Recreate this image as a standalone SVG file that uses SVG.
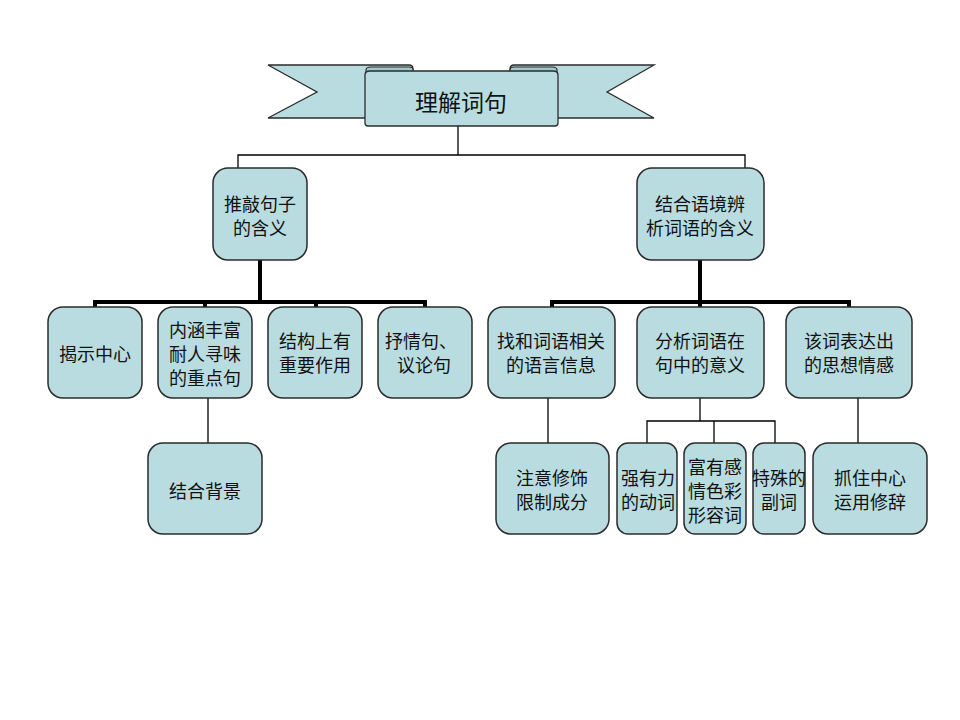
<svg xmlns="http://www.w3.org/2000/svg" width="960" height="720" viewBox="0 0 960 720">
<defs>
<style>
.box{fill:#b9dce0;stroke:#2b2b2b;stroke-width:1.5}
.rib{fill:#b9dce0;stroke:#2b2b2b;stroke-width:1.3;stroke-linejoin:miter}
.curl{fill:#a3c9cd;stroke:#2b2b2b;stroke-width:1.2}
.thin{fill:none;stroke:#000;stroke-width:1.3}
.thick{fill:none;stroke:#000;stroke-width:4;stroke-linejoin:miter}
text{font-family:"Noto Sans CJK SC","Liberation Sans",sans-serif;font-size:18px;fill:#111;text-anchor:middle;dominant-baseline:central}
.title{font-size:23px}
</style>
</defs>
<rect width="960" height="720" fill="#fff"/>
<g id="connectors">
<path class="thin" d="M458,126 V155 M238,168 V155 H745 V168"/>
<path class="thick" d="M260,260 V302 M95,307 V302 H425 V307 M205,302 V307 M316,302 V307"/>
<path class="thick" d="M700,260 V307 M552,307 V302 H849 V307"/>
<path class="thin" d="M208,398 V443 M548,398 V443 M858,398 V443 M700,398 V421 M647,443 V421 H775 V443 M714,421 V443"/>
</g>
<g id="title">
<path class="rib" d="M268,65 L409,65 Q413,65 413,69 L413,118 L268,118 L317,92 Z"/>
<path class="rib" d="M654,65 L514,65 Q510,65 510,69 L510,118 L654,118 L607,92 Z"/>
<path class="curl" d="M366,74 L366,70 Q366,67 371,67 L409,67 Q413,67 413,70 L413,74 Z"/>
<path class="curl" d="M510,74 L510,70 Q510,67 514,67 L552,67 Q557,67 557,70 L557,74 Z"/>
<path class="rib" d="M365,75 Q365,71 370,71 L553,71 Q558,71 558,75 L558,123 Q558,126 555,126 L368,126 Q365,126 365,123 Z"/>
<text class="title" x="461" y="101">理解词句</text>
</g>
<g id="n-tuiqiao">
<rect class="box" x="213" y="168" width="94" height="92" rx="15"/>
<text x="260" y="203">推敲句子</text><text x="260" y="227">的含义</text>
</g>
<g id="n-jiehe">
<rect class="box" x="637" y="168" width="127" height="92" rx="15"/>
<text x="700" y="203">结合语境辨</text><text x="700" y="227">析词语的含义</text>
</g>
<g id="n-jieshi">
<rect class="box" x="48" y="307" width="94" height="91" rx="15"/>
<text x="95" y="353">揭示中心</text>
</g>
<g id="n-neihan">
<rect class="box" x="158" y="307" width="94" height="91" rx="15"/>
<text x="205" y="329">内涵丰富</text><text x="205" y="353">耐人寻味</text><text x="205" y="377">的重点句</text>
</g>
<g id="n-jiegou">
<rect class="box" x="268" y="307" width="94" height="91" rx="15"/>
<text x="315" y="340">结构上有</text><text x="315" y="364">重要作用</text>
</g>
<g id="n-shuqing">
<rect class="box" x="378" y="307" width="94" height="91" rx="15"/>
<text x="421" y="340">抒情句、</text><text x="424" y="364">议论句</text>
</g>
<g id="n-zhao">
<rect class="box" x="488" y="307" width="127" height="91" rx="15"/>
<text x="551" y="340">找和词语相关</text><text x="551" y="364">的语言信息</text>
</g>
<g id="n-fenxi">
<rect class="box" x="637" y="307" width="127" height="91" rx="15"/>
<text x="700" y="340">分析词语在</text><text x="700" y="364">句中的意义</text>
</g>
<g id="n-gaici">
<rect class="box" x="786" y="307" width="126" height="91" rx="15"/>
<text x="849" y="340">该词表达出</text><text x="849" y="364">的思想情感</text>
</g>
<g id="n-beijing">
<rect class="box" x="148" y="443" width="114" height="91" rx="15"/>
<text x="205" y="490">结合背景</text>
</g>
<g id="n-zhuyi">
<rect class="box" x="496" y="443" width="113" height="91" rx="15"/>
<text x="552" y="477">注意修饰</text><text x="552" y="501">限制成分</text>
</g>
<g id="n-qiang">
<rect class="box" x="617" y="443" width="60" height="91" rx="11"/>
<text x="648" y="477">强有力</text><text x="648" y="501">的动词</text>
</g>
<g id="n-fuyou">
<rect class="box" x="684" y="443" width="62" height="91" rx="11"/>
<text x="715" y="466">富有感</text><text x="715" y="490">情色彩</text><text x="715" y="514">形容词</text>
</g>
<g id="n-teshu">
<rect class="box" x="753" y="443" width="52" height="91" rx="11"/>
<text x="779" y="477">特殊的</text><text x="779" y="501">副词</text>
</g>
<g id="n-zhuazhu">
<rect class="box" x="813" y="443" width="114" height="91" rx="15"/>
<text x="870" y="477">抓住中心</text><text x="870" y="501">运用修辞</text>
</g>
</svg>
